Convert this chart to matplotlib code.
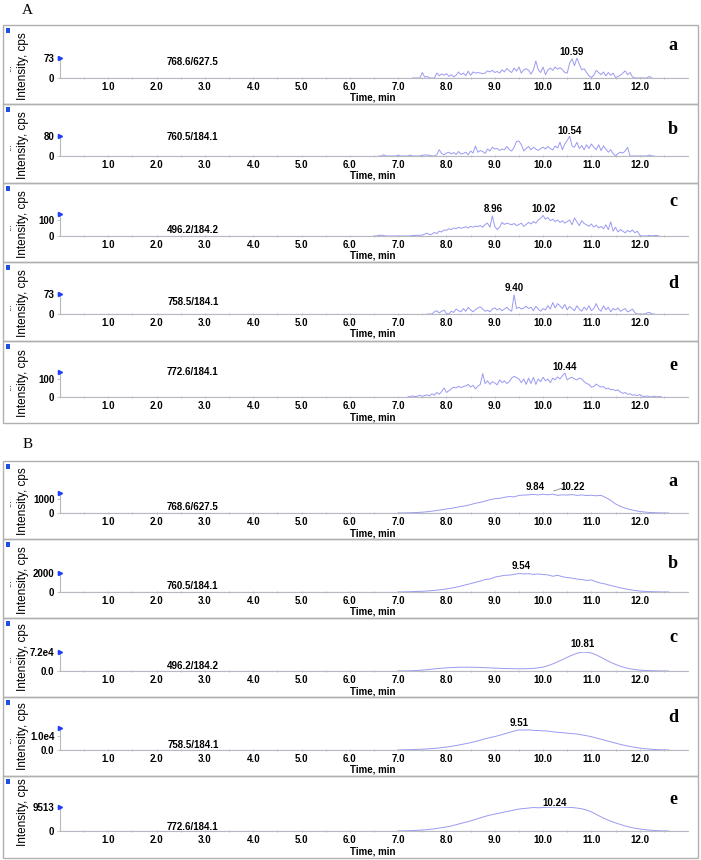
import numpy as np
import matplotlib.pyplot as plt
import matplotlib.transforms as mtransforms
from matplotlib.patches import Rectangle

plt.rcParams['font.family'] = ['Liberation Sans', 'DejaVu Sans']

W, H = 701, 860

# ---------------- data ----------------
transitions = ['768.6/627.5', '760.5/184.1', '496.2/184.2', '758.5/184.1', '772.6/184.1']
sub_labels = ['a', 'b', 'c', 'd', 'e']
time_ticks = [1, 2, 3, 4, 5, 6, 7, 8, 9, 10, 11, 12]

# group A: noisy traces, one scan every 0.05 min
a_step = 0.05
a_start = [7.30, 6.60, 6.50, 7.60, 7.20]
a_int_a = [0, 0, 0, 0, 20, 3, 6, 0, 0, 0, 18, 8, 15, 10, 16, 6, 12, 4, 10, 22,
           12, 18, 8, 25, 10, 22, 18, 20, 18, 16, 18, 26, 22, 28, 20, 24, 18, 30, 22, 35,
           26, 20, 36, 25, 40, 18, 30, 34, 28, 14, 30, 62, 30, 20, 40, 12, 30, 36, 28, 40,
           32, 38, 30, 20, 18, 55, 70, 45, 73, 50, 30, 34, 20, 8, 2, 10, 28, 20, 12, 22,
           8, 20, 10, 18, 2, 5, 10, 18, 26, 12, 20, 4, 0, 0, 0, 0, 0, 0, 6, 0]
a_int_b = [0, 0, 5, 0, 0, 0, 0, 0, 4, 0, 0, 0, 0, 4, 0, 0, 0, 0, 3, 4,
           4, 3, 0, 0, 5, 25, 10, 5, 12, 15, 8, 14, 6, 18, 8, 10, 15, 5, 20, 12,
           40, 15, 22, 18, 10, 28, 20, 35, 28, 30, 22, 28, 25, 38, 25, 20, 35, 58, 60, 45,
           20, 30, 38, 25, 35, 28, 22, 30, 35, 28, 38, 30, 24, 40, 32, 55, 25, 48, 62, 80,
           40, 35, 55, 30, 42, 25, 45, 30, 48, 35, 25, 45, 22, 40, 28, 15, 25, 10, 0, 10,
           15, 12, 20, 35, 0, 0, 0, 0, 0, 0, 0, 0, 4, 0, 0]
a_int_c = [0, 0, 4, 5, 3, 0, 0, 0, 0, 0, 0, 0, 0, 0, 0, 0, 4, 3, 5, 4,
           6, 12, 18, 8, 12, 22, 15, 30, 25, 38, 35, 45, 40, 50, 45, 55, 48, 52, 58, 50,
           60, 55, 62, 58, 65, 55, 72, 80, 55, 125, 60, 40, 55, 85, 72, 80, 75, 70, 78, 65,
           72, 80, 60, 72, 85, 75, 90, 80, 100, 110, 128, 105, 115, 95, 105, 90, 100, 85, 95, 80,
           90, 100, 70, 112, 88, 65, 95, 78, 70, 60, 75, 55, 68, 50, 60, 45, 70, 40, 88, 30,
           55, 25, 40, 30, 20, 35, 25, 38, 20, 30, 5, 0, 0, 0, 4, 0, 3, 3, 0]
a_int_d = [0, 0, 0, 8, 12, 4, 10, 14, 2, 0, 10, 6, 18, 12, 8, 20, 10, 24, 15, 8,
           16, 22, 26, 18, 10, 14, 8, 18, 22, 15, 20, 12, 18, 25, 15, 10, 70, 20, 25, 18,
           22, 28, 20, 25, 12, 28, 18, 10, 20, 15, 30, 18, 42, 22, 38, 30, 20, 35, 15, 28,
           20, 12, 30, 18, 10, 25, 15, 30, 12, 20, 38, 18, 10, 30, 15, 25, 8, 20, 15, 22,
           10, 15, 20, 8, 12, 18, 5, 0, 0, 0, 0, 4, 6, 0, 0]
a_int_e = [0, 3, 6, 2, 5, 10, 4, 8, 12, 6, 18, 10, 25, 15, 30, 50, 25, 35, 45, 55,
           50, 60, 52, 58, 62, 70, 55, 65, 45, 60, 70, 130, 75, 90, 70, 85, 78, 68, 95, 80,
           90, 75, 85, 105, 115, 108, 100, 80, 100, 70, 105, 75, 110, 70, 100, 85, 110, 90, 100, 80,
           105, 95, 112, 100, 118, 133, 95, 105, 110, 100, 95, 105, 100, 85, 75, 70, 55, 58, 72, 62,
           55, 58, 45, 50, 40, 42, 35, 40, 28, 20, 25, 15, 18, 10, 12, 8, 14, 5, 3, 6,
           2, 0, 5, 0, 3, 0]
a_traces = [a_int_a, a_int_b, a_int_c, a_int_d, a_int_e]
a_tick_vals = [73, 80, 100, 73, 100]
a_tick_labels = ['73', '80', '100', '73', '100']
a_zero_labels = ['0', '0', '0', '0', '0']
a_ymax = [73, 80, 137, 73, 139]
a_peaks = [['10.59'], ['10.54'], ['8.96', '10.02'], ['9.40'], ['10.44']]

# group B: smooth traces, one point every 0.1 min
b_step = 0.1
b_start = [7.0, 7.0, 7.0, 7.0, 7.0]
b_int_a = [0, 5, 10, 20, 40, 60, 90, 130, 180, 230, 290, 330, 400, 460, 520, 600, 700, 760, 850, 950,
           1020, 1050, 1120, 1180, 1150, 1260, 1280, 1300, 1330, 1290, 1340, 1300, 1350, 1260, 1300, 1280,
           1320, 1260, 1290, 1250, 1270, 1230, 1260, 1100, 900, 650, 480, 350, 250, 170, 110, 70, 40,
           20, 10, 0, 0]
b_int_b = [0, 10, 20, 40, 60, 80, 110, 150, 200, 260, 330, 420, 520, 640, 780, 900, 1040, 1180, 1350,
           1400, 1600, 1700, 1800, 1820, 1900, 2000, 1950, 1980, 1900, 1950, 1880, 1850, 1700, 1800, 1650,
           1550, 1500, 1400, 1350, 1250, 1300, 1100, 950, 850, 700, 580, 450, 340, 250, 170, 110, 70, 40,
           20, 10, 0, 0]
b_int_c = [0, 200, 500, 1000, 2000, 3500, 5000, 7000, 9000, 10500, 12000, 13000, 13800, 14300, 14500,
           14400, 14000, 13400, 12600, 11800, 11000, 10200, 9500, 9000, 8600, 8400, 8500, 9000, 10000,
           12000, 15000, 20000, 27000, 35000, 43000, 52000, 60000, 67000, 71000, 71500, 68000, 61000,
           52000, 42000, 33000, 25000, 18000, 12500, 8500, 5500, 3500, 2200, 1300, 700, 300, 0, 0]
b_int_d = [0, 100, 200, 300, 450, 600, 800, 1000, 1300, 1700, 2100, 2600, 3200, 3900, 4500, 5200, 6100,
           7000, 8000, 8900, 9600, 10500, 11500, 12500, 13500, 14300, 14200, 14400, 14000, 13900, 13700,
           13500, 13000, 12600, 12400, 12000, 11700, 11400, 10800, 10200, 9500, 8600, 7700, 6700, 5800,
           4900, 4000, 3200, 2500, 1900, 1400, 1000, 650, 400, 200, 80, 0]
b_int_e = [0, 50, 100, 180, 280, 400, 550, 750, 1000, 1300, 1600, 2000, 2500, 3000, 3500, 4000, 4600,
           5200, 5800, 6300, 6700, 7100, 7500, 7900, 8300, 8700, 8900, 9100, 9300, 9200, 9300, 9400, 9450,
           9500, 9450, 9400, 9300, 9100, 8800, 8300, 7600, 6600, 5600, 4700, 3900, 3200, 2600, 2000, 1500,
           1100, 800, 550, 350, 200, 100, 30, 0]
b_traces = [b_int_a, b_int_b, b_int_c, b_int_d, b_int_e]
b_tick_vals = [1000, 2000, 72000, 10000, 9513]
b_tick_labels = ['1000', '2000', '7.2e4', '1.0e4', '9513']
b_zero_labels = ['0', '0', '0.0', '0.0', '0']
b_ymax = [1430, 2050, 72000, 15700, 9513]
b_peaks = [['9.84', '10.22'], ['9.54'], ['10.81'], ['9.51'], ['10.24']]

# ---------------- layout (pixels) ----------------
# box top, box bottom, zero line, axis top, transition label y, peak label y, letter y, dots y, ylabel y
a_layout = [(25, 104, 78, 58, 62, 52, 46, 68, 66),
            (104, 183, 156, 136, 137, 131, 129, 147, 145),
            (183, 262, 236, 214, 230, 209, 202, 227, 224),
            (262, 341, 314, 294, 302, 288, 283, 307, 303),
            (341, 423, 397, 372, 372, 367, 366, 387, 383)]
b_layout = [(461, 539, 513, 493, 507, 487, 481, 503, 501),
            (539, 618, 592, 573, 586, 566, 563, 583, 580),
            (618, 697, 671, 652, 666, 644, 638, 659, 657),
            (697, 776, 750, 728, 745, 723, 718, 740, 736),
            (776, 858, 831, 807, 827, 803, 800, None, 812)]

AX_L, AX_R = 60, 688
LINE = '#9a9af2'
GRID = '#b8b8c0'

fig = plt.figure(figsize=(W / 100, H / 100), dpi=100)


def fx(x):
    return x / W


def fy(y):
    return 1 - y / H


def draw_panel(trace, start, step, ymax, tick_val, tick_lab, zero_lab, trans, peaks, letter, lay):
    top, bot, zero, atop, ty, py, ly, dy, yl = lay
    fig.add_artist(Rectangle((fx(3), fy(bot)), fx(698) - fx(3), fy(top) - fy(bot),
                             transform=fig.transFigure, fill=False, ec='#b0b0b0', lw=1.0))
    # small blue marker square in the corner of each pane
    fig.add_artist(Rectangle((fx(6), fy(top + 8)), fx(4), fy(top + 3) - fy(top + 8),
                             transform=fig.transFigure, fc='#1f4fe0', ec='none', zorder=5))
    ax = fig.add_axes([fx(AX_L), fy(zero), fx(AX_R) - fx(AX_L), fy(atop) - fy(zero)])
    t = start + step * np.arange(len(trace))
    ax.axhline(0, color=LINE, lw=0.8, zorder=1)
    ax.plot(t, trace, color=LINE, lw=0.7, zorder=2)
    ax.set_xlim(0, 13)
    ax.set_ylim(0, ymax)
    for s in ['top', 'right']:
        ax.spines[s].set_visible(False)
    ax.spines['left'].set_color(GRID)
    ax.spines['bottom'].set_color(GRID)
    ax.spines['left'].set_linewidth(0.8)
    ax.spines['bottom'].set_linewidth(0.8)
    ax.patch.set_alpha(0)
    ax.set_xticks(time_ticks)
    ax.set_xticklabels(['%.1f' % v for v in time_ticks], fontsize=7, fontweight='bold')
    ax.set_xticks(np.arange(0.5, 13, 0.5), minor=True)
    ax.tick_params(axis='x', which='both', length=2, width=0.6, color=GRID, direction='inout', pad=2)
    ax.set_yticks([0, tick_val])
    ax.set_yticklabels([zero_lab, tick_lab], fontsize=7, fontweight='bold')
    ax.tick_params(axis='y', length=2, width=0.6, color=GRID, pad=2)
    ax.plot([0], [ymax], marker='>', ms=3, color='#1f3fff', clip_on=False, zorder=5)

    xy = mtransforms.blended_transform_factory(ax.transData, fig.transFigure)
    ax.text(2.75, fy(ty), trans, transform=xy, ha='center', va='center', fontsize=7, fontweight='bold')
    for k, p in enumerate(peaks):
        px = float(p)
        if len(peaks) == 2 and k == 1 and letter == 'a':
            # label pushed right with a small leader line
            ax.text(px + 0.4, fy(py), p, transform=xy, ha='center', va='center', fontsize=7, fontweight='bold')
            ax.plot([px, px + 0.18], [fy(py + 4), fy(py + 1)], transform=xy, color='#888888', lw=0.6,
                    clip_on=False)
        else:
            ax.text(px, fy(py), p, transform=xy, ha='center', va='center', fontsize=7, fontweight='bold')
    ax.text(6.0, fy(zero + 20), 'Time, min', transform=xy, ha='left', va='center', fontsize=7,
            fontweight='bold')
    fig.text(fx(673), fy(ly), letter, ha='center', va='center', fontsize=13, fontweight='bold',
             family='Liberation Serif')
    fig.text(fx(23), fy(yl), 'Intensity, cps', rotation=90, ha='center', va='center', fontsize=8.5)
    if dy is not None:
        fig.text(fx(8), fy(dy), '...', rotation=90, ha='center', va='center', fontsize=7)


for i in range(5):
    draw_panel(a_traces[i], a_start[i], a_step, a_ymax[i], a_tick_vals[i], a_tick_labels[i],
               a_zero_labels[i], transitions[i], a_peaks[i], sub_labels[i], a_layout[i])
    draw_panel(b_traces[i], b_start[i], b_step, b_ymax[i], b_tick_vals[i], b_tick_labels[i],
               b_zero_labels[i], transitions[i], b_peaks[i], sub_labels[i], b_layout[i])

fig.text(fx(27), fy(10), 'A', ha='center', va='center', fontsize=11, family='Liberation Serif')
fig.text(fx(28), fy(445), 'B', ha='center', va='center', fontsize=11, family='Liberation Serif')

fig.savefig('out.png', dpi=100)
